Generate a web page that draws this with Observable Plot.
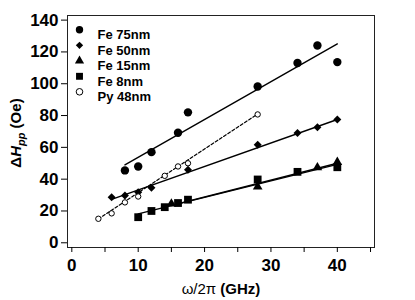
<!DOCTYPE html>
<html>
<head>
<meta charset="utf-8">
<script src="https://cdn.jsdelivr.net/npm/d3@7"></script>
<script src="https://cdn.jsdelivr.net/npm/@observablehq/plot@0.6"></script>
<style>
  html, body { margin: 0; padding: 0; background: #fff; }
  #chart { width: 415px; height: 300px; }
</style>
</head>
<body>
<div id="chart"></div>
<script>
// ---- data ----
const seriesNames = ["Fe 75nm", "Fe 50nm", "Fe 15nm", "Fe 8nm", "Py 48nm"];

const fe75X = [8, 10, 12, 16, 17.5, 28, 34, 37, 40];
const fe75Y = [45.5, 48, 57, 69.2, 82, 98.3, 113, 124, 113.6];

const fe50X = [6, 8, 10, 12, 17.5, 28, 34, 37, 40];
const fe50Y = [28.7, 29.7, 31.8, 34.6, 45.9, 61.6, 69, 72.7, 77.5];

const fe15X = [15, 28, 37, 40];
const fe15Y = [24.5, 35.2, 47.3, 50.7];

const fe8X = [10, 12, 14, 16, 17.5, 28, 34, 40];
const fe8Y = [16.1, 20, 22.4, 25, 27.1, 39.8, 44.6, 47.5];

const pyX = [4, 6, 8, 10, 14, 16, 17.5, 28];
const pyY = [15.1, 18.5, 25.4, 29.1, 42.1, 48, 50, 80.7];

// linear fit lines (end points)
const fitFe75X = [8, 40],  fitFe75Y = [49, 125];
const fitFe50X = [6, 40],  fitFe50Y = [27.3, 77.5];
const fitFe15X = [15, 40], fitFe15Y = [23.5, 50];
const fitFe8X  = [10, 40], fitFe8Y  = [18.2, 49.3];
const fitPyX   = [4, 28],  fitPyY   = [15, 81];

const xTicks = [0, 10, 20, 30, 40];
const xMinorTicks = [5, 15, 25, 35, 45];
const yTicks = [0, 20, 40, 60, 80, 100, 120, 140];

// ---- helpers ----
const pts = (xs, ys) => xs.map((x, i) => ({x, y: ys[i]}));
const FONT = "'Liberation Sans', Arial, Helvetica, sans-serif";

const symbolStyles = [
  {symbol: "circle",   r: 4.2, fill: "black", stroke: "none"},
  {symbol: "diamond2", r: 3.6, fill: "black", stroke: "none"},
  {symbol: "triangle", r: 3.6, fill: "black", stroke: "none"},
  {symbol: "square",   r: 4.4, fill: "black", stroke: "none"},
  {symbol: "circle",   r: 2.7, fill: "white", stroke: "black"}
];
const legendR = [3.7, 3.3, 3.4, 3.9, 3.3];
const seriesData = [
  pts(fe75X, fe75Y), pts(fe50X, fe50Y), pts(fe15X, fe15Y), pts(fe8X, fe8Y), pts(pyX, pyY)
];

const marks = [
  Plot.frame({stroke: "#222", strokeWidth: 1}),
  Plot.axisY({ticks: yTicks, tickSize: 6, tickPadding: 3, label: null, strokeWidth: 1}),
  Plot.axisX({ticks: xTicks, tickSize: 5, tickPadding: 6, label: null, strokeWidth: 1}),
  Plot.axisX({ticks: xMinorTicks, tickSize: 5, tickFormat: () => "", label: null, strokeWidth: 1}),
  Plot.line(pts(fitFe75X, fitFe75Y), {x: "x", y: "y", stroke: "black", strokeWidth: 1.4}),
  Plot.line(pts(fitFe50X, fitFe50Y), {x: "x", y: "y", stroke: "black", strokeWidth: 1.4}),
  Plot.line(pts(fitFe15X, fitFe15Y), {x: "x", y: "y", stroke: "black", strokeWidth: 1.4}),
  Plot.line(pts(fitFe8X, fitFe8Y), {x: "x", y: "y", stroke: "black", strokeWidth: 1.4}),
  Plot.line(pts(fitPyX, fitPyY), {x: "x", y: "y", stroke: "black", strokeWidth: 1.2, strokeDasharray: "3,2"})
];

seriesData.forEach((data, i) => {
  const s = symbolStyles[i];
  marks.push(Plot.dot(data, {x: "x", y: "y", symbol: () => s.symbol, r: s.r, fill: s.fill, stroke: s.stroke, strokeWidth: 1}));
});

// legend inside the frame, top-left
seriesNames.forEach((name, i) => {
  const s = symbolStyles[i];
  const dy = 14.3 + i * 15.5;
  marks.push(Plot.dot([name], {frameAnchor: "top-left", dx: 12, dy, symbol: () => s.symbol, r: legendR[i], fill: s.fill, stroke: s.stroke, strokeWidth: 1}));
  marks.push(Plot.text([name], {frameAnchor: "top-left", dx: 30, dy, text: d => d, textAnchor: "start", fontSize: 13, fontWeight: "bold", fill: "black"}));
});

const chart = Plot.plot({
  width: 415,
  height: 300,
  marginLeft: 67,
  marginRight: 41,
  marginTop: 15,
  marginBottom: 53,
  x: {domain: [-0.65, 45.6]},
  y: {domain: [-2.96, 142.9]},
  symbol: {type: "identity"},
  style: {fontFamily: FONT, fontSize: "17px", fontWeight: "bold", color: "black", background: "white"},
  marks
});

// axis titles with italic / subscript parts
const svg = d3.select(chart);
const yt = svg.append("text")
  .attr("transform", "translate(21,133) rotate(-90)")
  .attr("text-anchor", "middle")
  .attr("font-family", FONT)
  .attr("font-size", 15)
  .attr("font-weight", "bold")
  .attr("fill", "black");
yt.append("tspan").text("Δ");
yt.append("tspan").attr("font-style", "italic").text("H");
yt.append("tspan").attr("font-style", "italic").attr("font-size", 11).attr("dy", 4).text("pp");
yt.append("tspan").attr("dy", -4).text(" (Oe)");

const xt = svg.append("text")
  .attr("x", 221)
  .attr("y", 294)
  .attr("text-anchor", "middle")
  .attr("font-family", FONT)
  .attr("font-size", 15)
  .attr("fill", "black");
xt.append("tspan").attr("font-weight", "normal").text("ω/2π");
xt.append("tspan").attr("font-weight", "bold").text(" (GHz)");

document.getElementById("chart").appendChild(chart);
</script>
</body>
</html>
